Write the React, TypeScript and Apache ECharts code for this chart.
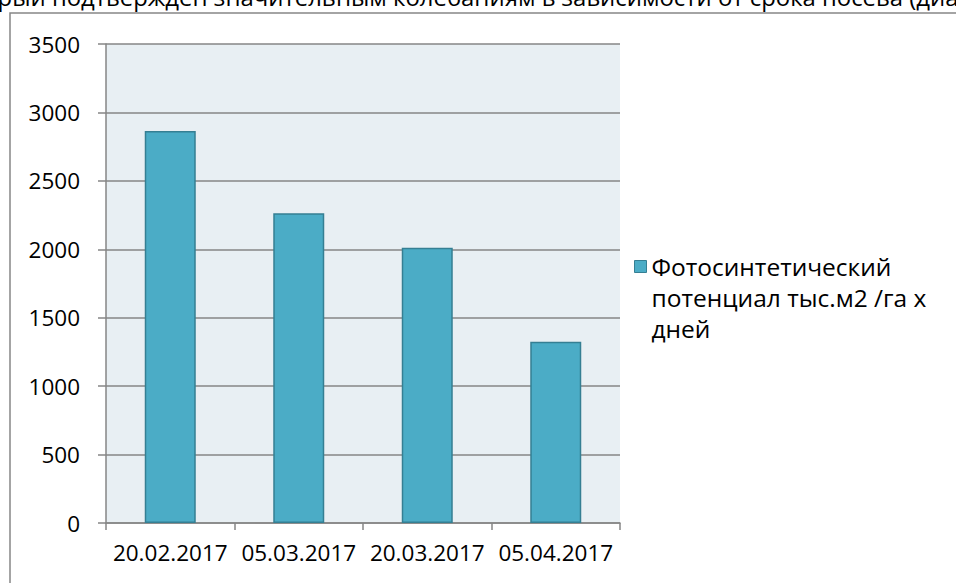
import React, { useEffect, useRef } from "react";
import * as echarts from "echarts";

const categories = ["20.02.2017", "05.03.2017", "20.03.2017", "05.04.2017"];
const values = [2865, 2263, 2012, 1324];
const seriesName = "Фотосинтетический\nпотенциал тыс.м2 /га х\nдней";
const topText = "рый подтвержден значительным колебаниям в зависимости от срока посева (диа";
const yMax = 3500;
const yStep = 500;

export default function App() {
  const ref = useRef<HTMLDivElement>(null);
  useEffect(() => {
    if (!ref.current) return;
    const chart = echarts.init(ref.current, null, { renderer: "svg" });
    const font = "'Open Sans', sans-serif";
    chart.setOption({
      animation: false,
      backgroundColor: "#ffffff",
      textStyle: { fontFamily: font },
      grid: { left: 106, top: 44, width: 514, height: 479, containLabel: false, show: true, backgroundColor: "#E8EFF3", borderWidth: 0 },
      legend: {
        show: true,
        orient: "vertical",
        left: 629,
        top: 184,
        itemWidth: 12,
        itemHeight: 12,
        itemGap: 4,
        icon: "rect",
        formatter: (name: string) => "\n\n" + name,
        textStyle: { fontFamily: font, fontSize: 24.5, color: "#000", lineHeight: 31 },
        data: [{ name: seriesName, itemStyle: { color: "#4BACC6", borderColor: "#357F93", borderWidth: 1 } }],
      },
      xAxis: {
        type: "category",
        data: categories,
        boundaryGap: true,
        axisLine: { show: true, lineStyle: { color: "#868686", width: 1.5 } },
        axisTick: { show: true, length: 7, lineStyle: { color: "#868686", width: 1.5 } },
        axisLabel: { fontFamily: font, fontSize: 22.5, color: "#000", margin: 18, interval: 0 },
        splitLine: { show: false },
      },
      yAxis: {
        type: "value",
        min: 0,
        max: yMax,
        interval: yStep,
        axisLine: { show: true, lineStyle: { color: "#868686", width: 1.5 } },
        axisTick: { show: true, length: 8, lineStyle: { color: "#868686", width: 1.5 } },
        axisLabel: { fontFamily: font, fontSize: 22.5, color: "#000", margin: 26, formatter: (v: number) => String(v) },
        splitLine: { show: true, lineStyle: { color: "#868686", width: 1.5 } },
      },
      series: [
        {
          type: "bar",
          name: seriesName,
          data: values,
          barWidth: 51,
          itemStyle: { color: "#4BACC6", borderColor: "#357F93", borderWidth: 1.5 },
        },
      ],
      graphic: [
        {
          type: "text",
          left: "center",
          top: -16,
          style: { text: topText, fontFamily: font, fontSize: 23.9, fill: "#000" },
        },
        {
          type: "polyline",
          shape: { points: [[10, 583], [10, 13], [956, 13]] },
          style: { stroke: "#868686", lineWidth: 1.5, fill: "none" },
        },
      ],
    });
    return () => chart.dispose();
  }, []);
  return <div ref={ref} style={{ position: "fixed", left: 0, top: 0, width: 956, height: 583 }} />;
}
